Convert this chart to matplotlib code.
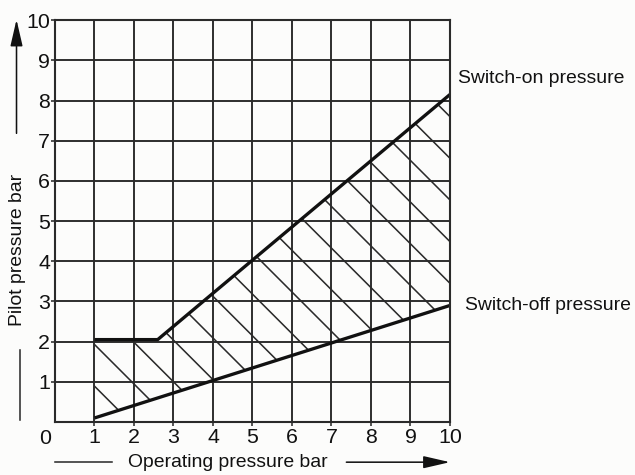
import numpy as np
import matplotlib
matplotlib.use('Agg')
import matplotlib.pyplot as plt

# switch-on / switch-off pressure curves (operating bar -> pilot bar)
on_x = [1, 2.6, 10]
on_y = [2.05, 2.05, 8.15]
off_x = [1, 10]
off_y = [0.1, 2.9]

ticks = list(range(1, 11))
tick_labels = [str(t) for t in ticks]

plt.rcParams['font.family'] = ['Liberation Sans', 'DejaVu Sans']
plt.rcParams['hatch.linewidth'] = 0.9
plt.rcParams['hatch.color'] = '#222222'

ink = '#2a2a2a'
fig = plt.figure(figsize=(5.08, 3.8), dpi=125, facecolor='#fcfcfb')
ax = fig.add_axes([0.0866, 0.1116, 0.622, 0.846])
ax.set_facecolor('#fcfcfb')

# hatched band between the two curves
poly_x = np.concatenate([on_x, off_x[::-1]])
poly_y = np.concatenate([on_y, off_y[::-1]])
ax.fill(poly_x, poly_y, facecolor='none', edgecolor=ink, hatch='\\', linewidth=0)

ax.plot(on_x, on_y, color='#111111', lw=1.9, solid_capstyle='butt')
ax.plot(off_x, off_y, color='#111111', lw=1.9, solid_capstyle='butt')

ax.set_xlim(0, 10)
ax.set_ylim(0, 10)
ax.set_xticks(ticks)
ax.set_xticklabels(tick_labels)
ax.set_yticks(ticks)
ax.set_yticklabels(tick_labels)
ax.grid(True, color=ink, lw=1.1)
ax.set_axisbelow(True)
for s in ax.spines.values():
    s.set_color(ink)
    s.set_linewidth(1.2)
ax.tick_params(direction='out', length=2.5, width=0.9, color=ink,
               labelsize=12.3, labelcolor='#111111', pad=1.0)
ax.tick_params(axis='y', pad=0.3)

fig.text(45 / 635, 1 - 438 / 475, '0', fontsize=12.3, ha='center', va='center', color='#111111')

ax.text(10.2, 8.56, 'Switch-on pressure', fontsize=11.2, ha='left', va='center', color='#111111')
ax.text(10.38, 2.91, 'Switch-off pressure', fontsize=11.2, ha='left', va='center', color='#111111')

# axis labels with their arrows
fig.text(0.027, 0.474, 'Pilot pressure bar', rotation=90, fontsize=11.2,
         ha='center', va='center', color='#111111')
fig.add_artist(plt.Line2D([0.032, 0.032], [0.116, 0.263], transform=fig.transFigure,
                          color=ink, lw=0.9))
ax.annotate('', xy=(0.026, 0.966), xytext=(0.026, 0.712), xycoords='figure fraction',
            arrowprops=dict(arrowstyle='-|>,head_length=1.3,head_width=0.3',
                            mutation_scale=10, color='#111111', lw=0.9))

fig.text(0.359, 0.027, 'Operating pressure bar', fontsize=11.2,
         ha='center', va='center', color='#111111')
fig.add_artist(plt.Line2D([0.0866, 0.176], [0.027, 0.027], transform=fig.transFigure,
                          color=ink, lw=0.9))
ax.annotate('', xy=(0.714, 0.027), xytext=(0.54, 0.027), xycoords='figure fraction',
            arrowprops=dict(arrowstyle='-|>,head_length=1.3,head_width=0.3',
                            mutation_scale=10, color='#111111', lw=0.9))

fig.savefig('out.png', dpi=125, facecolor=fig.get_facecolor())
